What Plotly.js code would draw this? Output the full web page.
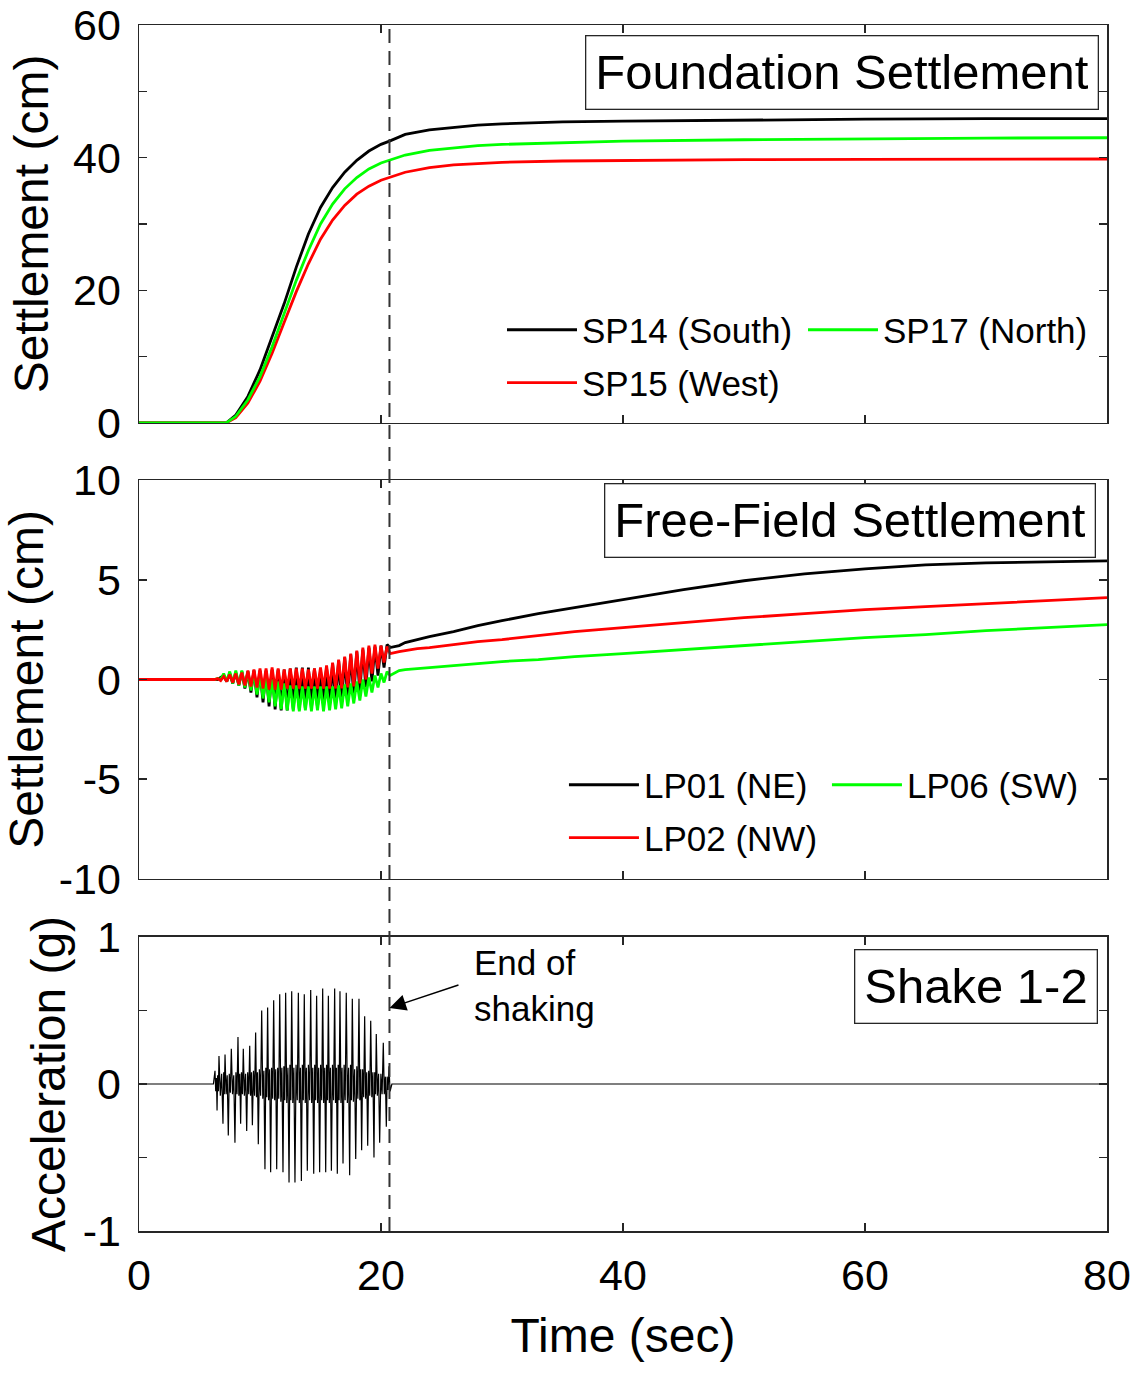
<!DOCTYPE html>
<html>
<head>
<meta charset="utf-8">
<script src="https://cdn.plot.ly/plotly-3.0.1.min.js"></script>
<style>html,body{margin:0;padding:0;background:#fff;}#chart{width:1144px;height:1374px;}</style>
</head>
<body>
<div id="chart"></div>
<script>
// ---------- Foundation settlement (cm) ----------
const fndTime = [0, 7.2, 8, 9, 10, 11, 12, 13, 14, 15, 16, 17, 18, 19, 20, 20.7, 22, 24, 26, 28, 30, 35, 40, 50, 60, 70, 80];
const sp14 = [0, 0, 1.2, 4.0, 8.0, 13, 18, 23.5, 28.5, 32.5, 35.5, 37.8, 39.6, 41, 42, 42.5, 43.5, 44.2, 44.6, 44.9, 45.1, 45.4, 45.5, 45.7, 45.8, 45.9, 45.9];
const sp15 = [0, 0, 0.8, 3.0, 6.3, 10.5, 15.2, 19.8, 24, 27.7, 30.6, 32.8, 34.5, 35.7, 36.6, 37.0, 37.8, 38.5, 38.9, 39.1, 39.3, 39.5, 39.6, 39.7, 39.75, 39.8, 39.8];
const sp17 = [0, 0, 1.0, 3.5, 7.0, 11.5, 16.5, 21.5, 26, 30, 33, 35.3, 37, 38.3, 39.2, 39.6, 40.4, 41.1, 41.5, 41.8, 42, 42.3, 42.5, 42.7, 42.85, 42.95, 43.0];

// ---------- Free-field settlement (cm) ----------
const ffTime = [0, 6.25,
  6.5, 6.75, 7, 7.25, 7.5, 7.75, 8, 8.25, 8.5, 8.75, 9, 9.25, 9.5, 9.75, 10, 10.25, 10.5, 10.75,
  11, 11.25, 11.5, 11.75, 12, 12.25, 12.5, 12.75, 13, 13.25, 13.5, 13.75, 14, 14.25, 14.5, 14.75,
  15, 15.25, 15.5, 15.75, 16, 16.25, 16.5, 16.75, 17, 17.25, 17.5, 17.75, 18, 18.25, 18.5, 18.75,
  19, 19.25, 19.5, 19.75, 20, 20.25, 20.5, 20.75,
  21.5, 22, 23, 24, 26, 28, 30, 33, 36, 40, 45, 50, 55, 60, 65, 70, 75, 80];
const lp01 = [0, 0,
  0.0, 0.1, 0.2, -0.1, 0.3, -0.2, 0.35, -0.3, 0.4, -0.45, 0.4, -0.65, 0.45, -0.9, 0.45, -1.15, 0.45, -1.35,
  0.5, -1.5, 0.5, -1.55, 0.5, -1.55, 0.55, -1.5, 0.6, -1.5, 0.6, -1.45, 0.6, -1.45, 0.55, -1.4,
  0.45, -1.35, 0.6, -1.3, 0.8, -1.2, 0.95, -1.1, 1.1, -0.95, 1.25, -0.8, 1.4, -0.6, 1.5, -0.4,
  1.6, -0.1, 1.65, 0.2, 1.7, 0.6, 1.75, 1.6,
  1.7, 1.85, 2.0, 2.15, 2.4, 2.7, 2.95, 3.3, 3.6, 4.0, 4.5, 4.95, 5.3, 5.55, 5.75, 5.85, 5.9, 5.95];
const lp02 = [0, 0,
  0.05, -0.05, 0.15, -0.1, 0.25, -0.15, 0.3, -0.25, 0.35, -0.3, 0.45, -0.35, 0.5, -0.4, 0.55, -0.45, 0.55, -0.5,
  0.6, -0.5, 0.55, -0.5, 0.5, -0.45, 0.55, -0.45, 0.55, -0.45, 0.55, -0.45, 0.5, -0.45, 0.55, -0.45,
  0.6, -0.45, 0.7, -0.45, 0.85, -0.45, 1.0, -0.45, 1.15, -0.4, 1.3, -0.35, 1.45, -0.2, 1.6, 0.0,
  1.7, 0.3, 1.75, 0.55, 1.7, 0.85, 1.65, 1.3,
  1.4, 1.45, 1.55, 1.6, 1.75, 1.9, 2.0, 2.2, 2.4, 2.6, 2.85, 3.1, 3.3, 3.5, 3.65, 3.8, 3.95, 4.1];
const lp06 = [0, 0,
  0.05, 0.0, 0.3, -0.1, 0.4, -0.2, 0.45, -0.3, 0.45, -0.4, 0.4, -0.55, 0.35, -0.75, 0.25, -0.95, 0.1, -1.15,
  0.0, -1.35, -0.1, -1.5, -0.2, -1.55, -0.3, -1.6, -0.3, -1.6, -0.35, -1.55, -0.35, -1.6, -0.35, -1.55,
  -0.35, -1.6, -0.35, -1.55, -0.35, -1.5, -0.3, -1.45, -0.25, -1.35, -0.2, -1.2, -0.1, -1.05, 0.0, -0.85,
  0.1, -0.65, 0.2, -0.4, 0.3, -0.15, 0.4, 0.2,
  0.45, 0.5, 0.55, 0.6, 0.7, 0.8, 0.9, 1.0, 1.15, 1.3, 1.5, 1.7, 1.9, 2.1, 2.25, 2.45, 2.6, 2.75];

// ---------- Base acceleration (g): main peaks with the small in-between wiggles ----------
const accTime = [0, 6.15,
  6.28, 6.34, 6.40, 6.45, 6.50, 6.56, 6.61, 6.72, 6.83, 6.94, 7.00, 7.05,
  7.11, 7.20, 7.29, 7.38, 7.46, 7.55, 7.63, 7.73, 7.83, 7.93, 8.01, 8.10,
  8.18, 8.25, 8.33, 8.40, 8.47, 8.55, 8.62, 8.71, 8.81, 8.90, 8.98, 9.07,
  9.15, 9.22, 9.30, 9.37, 9.46, 9.55, 9.64, 9.71, 9.79, 9.86, 9.95, 10.05,
  10.14, 10.23, 10.32, 10.41, 10.48, 10.56, 10.63, 10.71, 10.80, 10.88, 10.96, 11.05,
  11.13, 11.21, 11.30, 11.38, 11.46, 11.55, 11.63, 11.72, 11.81, 11.90, 11.97, 12.05,
  12.12, 12.21, 12.31, 12.40, 12.47, 12.55, 12.62, 12.71, 12.80, 12.89, 12.98, 13.08,
  13.17, 13.25, 13.34, 13.42, 13.50, 13.58, 13.66, 13.74, 13.83, 13.91, 14.00, 14.10,
  14.19, 14.27, 14.36, 14.44, 14.52, 14.60, 14.68, 14.76, 14.85, 14.93, 15.01, 15.10,
  15.18, 15.26, 15.35, 15.43, 15.50, 15.58, 15.65, 15.73, 15.82, 15.90, 15.99, 16.08,
  16.17, 16.24, 16.32, 16.39, 16.46, 16.54, 16.61, 16.69, 16.78, 16.86, 16.95, 17.04,
  17.13, 17.22, 17.32, 17.41, 17.48, 17.56, 17.63, 17.72, 17.82, 17.91, 18.00, 18.09,
  18.18, 18.25, 18.33, 18.40, 18.48, 18.57, 18.65, 18.73, 18.82, 18.90, 18.98, 19.07,
  19.15, 19.24, 19.33, 19.42, 19.48, 19.55, 19.61, 19.70, 19.80, 19.89, 19.99, 20.09,
  20.19, 20.27, 20.36, 20.44, 20.51, 20.59, 20.66, 20.75, 20.9, 80];
const accG = [0, 0,
  0.09, -0.05, 0.04, -0.18, 0.06, -0.05, 0.19, -0.08, 0.07, -0.27, 0.08, -0.07,
  0.20, -0.07, 0.06, -0.35, 0.07, -0.06, 0.24, -0.07, 0.06, -0.40, 0.08, -0.07,
  0.32, -0.08, 0.07, -0.27, 0.08, -0.07, 0.24, -0.08, 0.07, -0.32, 0.08, -0.07,
  0.26, -0.08, 0.08, -0.28, 0.09, -0.08, 0.35, -0.09, 0.08, -0.41, 0.10, -0.08,
  0.50, -0.10, 0.09, -0.58, 0.11, -0.09, 0.52, -0.11, 0.10, -0.60, 0.11, -0.10,
  0.57, -0.11, 0.10, -0.58, 0.11, -0.10, 0.61, -0.12, 0.11, -0.60, 0.12, -0.11,
  0.62, -0.13, 0.11, -0.67, 0.13, -0.11, 0.63, -0.13, 0.11, -0.67, 0.13, -0.11,
  0.62, -0.13, 0.11, -0.66, 0.13, -0.11, 0.61, -0.13, 0.11, -0.59, 0.13, -0.11,
  0.64, -0.13, 0.11, -0.61, 0.13, -0.11, 0.60, -0.13, 0.11, -0.60, 0.13, -0.11,
  0.65, -0.13, 0.11, -0.60, 0.13, -0.11, 0.60, -0.13, 0.11, -0.59, 0.13, -0.11,
  0.65, -0.13, 0.11, -0.61, 0.13, -0.11, 0.63, -0.13, 0.11, -0.54, 0.13, -0.11,
  0.62, -0.13, 0.11, -0.62, 0.13, -0.11, 0.58, -0.12, 0.10, -0.51, 0.12, -0.10,
  0.58, -0.11, 0.10, -0.45, 0.10, -0.09, 0.46, -0.10, 0.08, -0.42, 0.09, -0.08,
  0.43, -0.09, 0.08, -0.50, 0.08, -0.07, 0.34, -0.08, 0.07, -0.40, 0.07, -0.07,
  0.28, -0.07, 0.05, -0.29, 0.05, -0.04, 0.12, -0.05, 0, 0];

const endShakingTime = 20.7;
const xTicks = [0, 20, 40, 60, 80];
const fndTicks = [0, 10, 20, 30, 40, 50, 60];
const fndTickText = ['0', '', '20', '', '40', '', '60'];
const ffTicks = [-10, -5, 0, 5, 10];
const ffTickText = ['-10', '-5', '0', '5', '10'];
const accTicks = [-1, -0.5, 0, 0.5, 1];
const accTickText = ['-1', '', '0', '', '1'];

const FONT = 'Liberation Sans, Arial, sans-serif';
const AX = '#262626';
const GREEN = '#00ff00', RED = '#ff0000', BLACK = '#000000';

const traces = [
  {x: fndTime, y: sp14, xaxis: 'x', yaxis: 'y', mode: 'lines', name: 'SP14 (South)', legend: 'legend', line: {color: BLACK, width: 2.8}},
  {x: fndTime, y: sp15, xaxis: 'x', yaxis: 'y', mode: 'lines', name: 'SP15 (West)', legend: 'legend2', line: {color: RED, width: 2.8}},
  {x: fndTime, y: sp17, xaxis: 'x', yaxis: 'y', mode: 'lines', name: 'SP17 (North)', legend: 'legend', line: {color: GREEN, width: 2.8}},
  {x: ffTime, y: lp01, xaxis: 'x2', yaxis: 'y2', mode: 'lines', name: 'LP01 (NE)', legend: 'legend3', line: {color: BLACK, width: 2.8}},
  {x: ffTime, y: lp06, xaxis: 'x2', yaxis: 'y2', mode: 'lines', name: 'LP06 (SW)', legend: 'legend3', line: {color: GREEN, width: 2.8}},
  {x: ffTime, y: lp02, xaxis: 'x2', yaxis: 'y2', mode: 'lines', name: 'LP02 (NW)', legend: 'legend4', line: {color: RED, width: 2.8}},
  {x: accTime, y: accG, xaxis: 'x3', yaxis: 'y3', mode: 'lines', name: 'Base', showlegend: false, line: {color: BLACK, width: 1.2}}
];

function axis(extra) {
  return Object.assign({
    showline: true, linecolor: AX, linewidth: 1.5, mirror: 'ticks',
    ticks: 'inside', ticklen: 8, tickwidth: 1.5, tickcolor: AX,
    showgrid: false, zeroline: false, automargin: false,
    tickfont: {family: FONT, size: 43, color: '#000'}
  }, extra);
}
const yTitleFont = {family: FONT, size: 48, color: '#000'};

function legendAt(x, y, ew) {
  return {x: x, y: y, xanchor: 'left', yanchor: 'middle', orientation: 'h',
    entrywidth: ew, entrywidthmode: 'pixels', itemwidth: 70,
    bgcolor: 'rgba(0,0,0,0)', borderwidth: 0,
    font: {family: FONT, size: 35, color: '#000'}};
}

const layout = {
  width: 1144, height: 1374,
  margin: {l: 139, r: 37, t: 25, b: 143, autoexpand: false},
  paper_bgcolor: '#fff', plot_bgcolor: '#fff',
  font: {family: FONT, color: '#000'},
  xaxis: axis({anchor: 'y', domain: [0, 1], range: [0, 80], tickvals: xTicks, showticklabels: false}),
  xaxis2: axis({anchor: 'y2', domain: [0, 1], range: [0, 80], tickvals: xTicks, showticklabels: false}),
  xaxis3: axis({anchor: 'y3', domain: [0, 1], range: [0, 80], tickvals: xTicks, ticklabelstandoff: 6,
    title: {text: 'Time (sec)', font: yTitleFont, standoff: 20}}),
  yaxis: axis({anchor: 'x', domain: [0.670, 1], range: [0, 60], tickvals: fndTicks, ticktext: fndTickText, ticklabelstandoff: 8,
    title: {text: 'Settlement (cm)', font: yTitleFont, standoff: 9}}),
  yaxis2: axis({anchor: 'x2', domain: [0.2919, 0.6227], range: [-10, 10], tickvals: ffTicks, ticktext: ffTickText, ticklabelstandoff: 8,
    title: {text: 'Settlement (cm)', font: yTitleFont, standoff: 9}}),
  yaxis3: axis({anchor: 'x3', domain: [0, 0.2438], range: [-1, 1], tickvals: accTicks, ticktext: accTickText, ticklabelstandoff: 8,
    title: {text: 'Acceleration (g)', font: yTitleFont, standoff: 2}}),
  legend: legendAt(0.375, 0.7471, 216),
  legend2: legendAt(0.375, 0.7032, 216),
  legend3: legendAt(0.439, 0.3698, 178),
  legend4: legendAt(0.439, 0.3259, 178),
  shapes: [
    {type: 'line', xref: 'x', yref: 'paper', x0: endShakingTime, x1: endShakingTime, y0: 0, y1: 0.998,
     line: {color: '#333', width: 2, dash: '14px,8px'}}
  ],
  annotations: [
    {xref: 'paper', yref: 'paper', x: 0.9917, y: 0.9917, xanchor: 'right', yanchor: 'top', showarrow: false,
     text: 'Foundation Settlement', font: {family: FONT, size: 49, color: '#000'},
     bordercolor: AX, borderwidth: 1.3, borderpad: 9, bgcolor: '#fff'},
    {xref: 'paper', yref: 'paper', x: 0.9886, y: 0.6202, xanchor: 'right', yanchor: 'top', showarrow: false,
     text: 'Free-Field Settlement', font: {family: FONT, size: 49, color: '#000'},
     bordercolor: AX, borderwidth: 1.3, borderpad: 9, bgcolor: '#fff'},
    {xref: 'paper', yref: 'paper', x: 0.9907, y: 0.2338, xanchor: 'right', yanchor: 'top', showarrow: false,
     text: 'Shake 1-2', font: {family: FONT, size: 49, color: '#000'},
     bordercolor: AX, borderwidth: 1.3, borderpad: 9, bgcolor: '#fff'},
    {xref: 'x3', yref: 'y3', x: 27.5, y: 0.673, xanchor: 'left', yanchor: 'middle', align: 'left', showarrow: false,
     text: 'End of<br>shaking', font: {family: FONT, size: 35, color: '#000'}},
    {xref: 'x3', yref: 'y3', x: endShakingTime, y: 0.517, text: ' ', showarrow: true,
     ax: 72, ay: -24, arrowhead: 2, arrowsize: 2.2, arrowwidth: 1.5, arrowcolor: '#000', standoff: 0}
  ]
};

Plotly.newPlot('chart', traces, layout, {staticPlot: true, displayModeBar: false});
</script>
</body>
</html>
